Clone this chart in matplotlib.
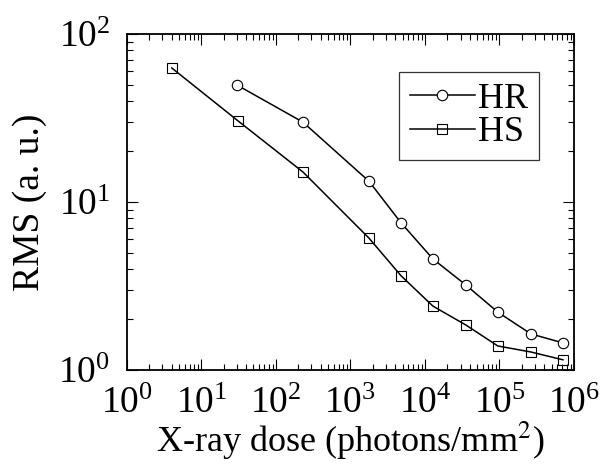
import numpy as np
import matplotlib.pyplot as plt
from matplotlib.ticker import LogLocator, NullFormatter

plt.rcParams['font.family'] = ['Liberation Serif', 'DejaVu Serif']
plt.rcParams['mathtext.fontset'] = 'stix'

# RMS versus X-ray dose for the two detector modes
dose_hr = [30, 230, 1770, 4800, 12800, 35600, 95000, 264000, 710000]
rms_hr = [49.7, 29.9, 13.3, 7.5, 4.58, 3.2, 2.21, 1.64, 1.45]

dose_hs = [4, 31, 230, 1770, 4800, 12800, 35600, 95000, 264000, 710000]
rms_hs = [62.8, 30.4, 15.1, 6.1, 3.63, 2.40, 1.85, 1.39, 1.28, 1.15]

fig = plt.figure(figsize=(6.1, 4.66), dpi=100)
ax = fig.add_axes([0.208, 0.206, 0.733, 0.721])

ax.plot(dose_hr, rms_hr, color='black', lw=1.1, marker='o', ms=7.5,
        mfc='white', mec='black', mew=0.8, label='HR')
ax.plot(dose_hs, rms_hs, color='black', lw=1.1, marker='s', ms=7.5,
        mfc='none', mec='black', mew=0.8, label='HS')

ax.set_xscale('log')
ax.set_yscale('log')
ax.set_xlim(1, 1e6)
ax.set_ylim(1, 100)

ax.xaxis.set_major_locator(LogLocator(base=10, numticks=10))
ax.xaxis.set_minor_locator(LogLocator(base=10, subs=np.arange(2, 10), numticks=10))
ax.xaxis.set_minor_formatter(NullFormatter())
ax.yaxis.set_minor_formatter(NullFormatter())

ax.tick_params(which='both', direction='in', top=True, right=True,
               labelsize=27, width=0.8)
ax.tick_params(which='major', length=8)
ax.tick_params(which='minor', length=4)
ax.tick_params(axis='x', which='major', pad=12)
ax.tick_params(axis='y', which='major', pad=12)
for s in ax.spines.values():
    s.set_linewidth(1.3)

ax.set_xlabel('X-ray dose (photons/mm$^2$)', fontsize=26, labelpad=-1)
ax.set_ylabel('RMS (a. u.)', fontsize=27, labelpad=8)

leg = ax.legend(loc='upper left', bbox_to_anchor=(0.608, 0.887), fontsize=26,
                frameon=True, fancybox=False, edgecolor='black',
                handlelength=1.8, handletextpad=0.1, borderpad=0.3,
                labelspacing=0.0, borderaxespad=0)
leg.get_frame().set_linewidth(0.9)

fig.savefig('out.png', dpi=100)
